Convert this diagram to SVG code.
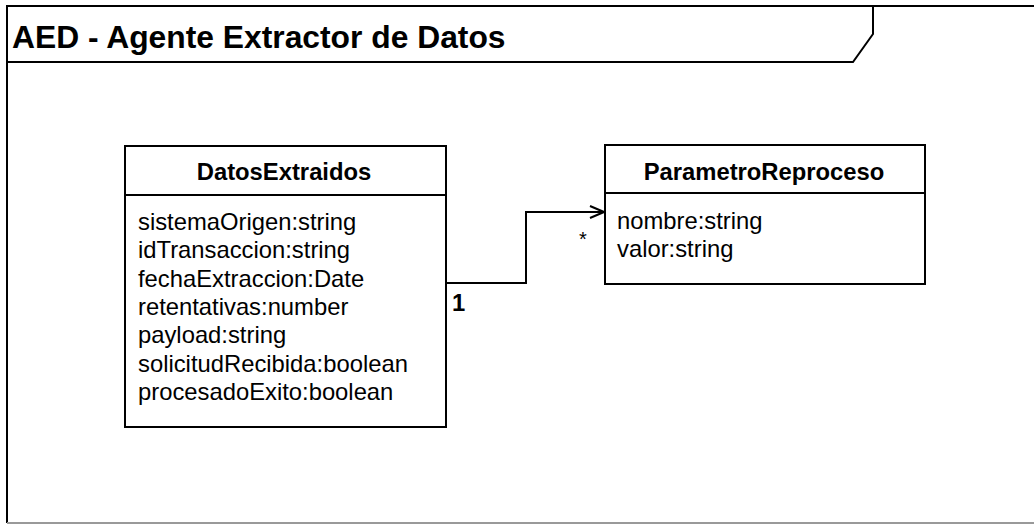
<svg xmlns="http://www.w3.org/2000/svg" width="1034" height="526" viewBox="0 0 1034 526">
  <style>
    .ln { fill: none; stroke: #000; stroke-width: 2; }
    .box { fill: #fff; stroke: #000; stroke-width: 2; }
    .t { font-family: "Liberation Sans", Arial, sans-serif; fill: #000; }
    .hdr { font-size: 23.8px; font-weight: bold; text-anchor: middle; }
    .attr { font-size: 23.8px; }
    .title { font-size: 31.8px; font-weight: bold; }
  </style>
  <defs>
    <marker id="open" viewBox="0 0 16 14" refX="15" refY="7" markerWidth="16" markerHeight="14" markerUnits="userSpaceOnUse" orient="auto">
      <path d="M1,1 L15,7 L1,13" fill="none" stroke="#000" stroke-width="2"/>
    </marker>
  </defs>
  <rect width="1034" height="526" fill="#fff"/>

  <g id="frame">
    <path class="ln" d="M7,523 V6 H1040"/>
    <path d="M7,523 H1040" fill="none" stroke="#999" stroke-width="2"/>
    <path class="ln" d="M7,62 H853 L873,34 V6"/>
    <text class="t title" x="12" y="48">AED - Agente Extractor de Datos</text>
  </g>

  <g id="DatosExtraidos">
    <rect class="box" x="125" y="146" width="321" height="281"/>
    <line class="ln" x1="125" y1="195" x2="446" y2="195"/>
    <text class="t hdr" x="284" y="180">DatosExtraidos</text>
    <text class="t attr" x="138" y="230">sistemaOrigen:string</text>
    <text class="t attr" x="138" y="258.3">idTransaccion:string</text>
    <text class="t attr" x="138" y="286.6">fechaExtraccion:Date</text>
    <text class="t attr" x="138" y="314.9">retentativas:number</text>
    <text class="t attr" x="138" y="343.2">payload:string</text>
    <text class="t attr" x="138" y="371.5">solicitudRecibida:boolean</text>
    <text class="t attr" x="138" y="399.8">procesadoExito:boolean</text>
  </g>

  <g id="ParametroReproceso">
    <rect class="box" x="605" y="145" width="320" height="139"/>
    <line class="ln" x1="605" y1="193" x2="925" y2="193"/>
    <text class="t hdr" x="764" y="180">ParametroReproceso</text>
    <text class="t attr" x="617" y="229">nombre:string</text>
    <text class="t attr" x="617" y="257.3">valor:string</text>
  </g>

  <g id="connectors">
    <path class="ln" d="M446,283 H526 V212 H604" marker-end="url(#open)"/>
    <text class="t" x="583" y="246" font-size="20" text-anchor="middle">*</text>
    <text class="t" x="452" y="311" font-size="23.8" font-weight="bold">1</text>
  </g>
</svg>
